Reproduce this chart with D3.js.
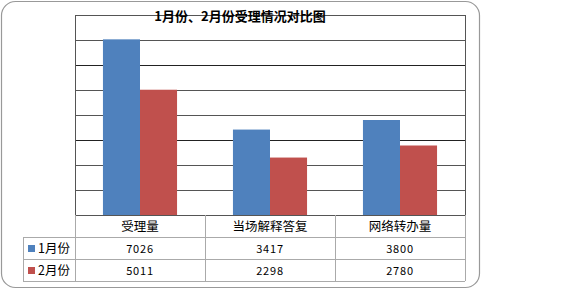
<!DOCTYPE html>
<html>
<head>
<meta charset="utf-8">
<script src="https://cdn.jsdelivr.net/npm/d3@7"></script>
<style>
  body { margin: 0; background: #fff; }
  text { font-family: "Noto Sans CJK SC", "Noto Sans", sans-serif; }
</style>
</head>
<body>
<div id="chart-root"></div>
<script>
const categories = ['受理量', '当场解释答复', '网络转办量'];
const seriesNames = ['1月份', '2月份'];
const jan = [7026, 3417, 3800];
const feb = [5011, 2298, 2780];
const colors = ['#4F81BD', '#C0504D'];

const W = 576, H = 290;
const plot = {left: 75, right: 465, top: 15, bottom: 215};
const rowH = 22;
const legendLeft = 23;

const svg = d3.select('#chart-root').append('svg')
    .attr('width', W).attr('height', H);

// outer frame
svg.append('rect')
    .attr('x', 1.5).attr('y', 1.5)
    .attr('width', 478).attr('height', 286)
    .attr('rx', 14).attr('ry', 14)
    .attr('fill', '#fff').attr('stroke', '#999').attr('stroke-width', 1.2);

const x0 = d3.scaleBand()
    .domain(categories)
    .range([plot.left, plot.right])
    .paddingInner(0.43)
    .paddingOuter(0.215);
const x1 = d3.scaleBand()
    .domain(seriesNames)
    .range([0, x0.bandwidth()]);
const y = d3.scaleLinear()
    .domain([0, 8000])
    .range([plot.bottom, plot.top]);

// gridlines
svg.append('g')
    .selectAll('line')
    .data(y.ticks(8))
    .join('line')
    .attr('x1', plot.left).attr('x2', plot.right)
    .attr('y1', d => Math.round(y(d)) + 0.5)
    .attr('y2', d => Math.round(y(d)) + 0.5)
    .attr('stroke', (d, i) => i % 3 === 0 ? '#222' : '#555');

// bars
const series = [jan, feb];
const groups = svg.append('g').selectAll('g')
    .data(categories)
    .join('g')
    .attr('transform', d => `translate(${x0(d)},0)`);
groups.selectAll('rect')
    .data((d, i) => seriesNames.map((s, j) => ({s, v: series[j][i], j})))
    .join('rect')
    .attr('x', d => x1(d.s))
    .attr('y', d => y(d.v))
    .attr('width', x1.bandwidth())
    .attr('height', d => plot.bottom - y(d.v))
    .attr('fill', d => colors[d.j]);

// plot frame
svg.append('rect')
    .attr('x', plot.left + 0.5).attr('y', plot.top + 0.5)
    .attr('width', plot.right - plot.left).attr('height', plot.bottom - plot.top)
    .attr('fill', 'none').attr('stroke', '#555');

// title
svg.append('text')
    .attr('x', 240).attr('y', 21)
    .attr('text-anchor', 'middle')
    .attr('font-size', 13).attr('font-weight', 'bold')
    .text('1月份、2月份受理情况对比图');

// data table
const table = svg.append('g').attr('stroke', '#aaa').attr('fill', 'none');
const step = x0.step();
const bounds = categories.map((c, i) => plot.left + i * step).concat([plot.right]);
bounds.forEach(bx => {
  table.append('line')
      .attr('x1', bx + 0.5).attr('x2', bx + 0.5)
      .attr('y1', plot.bottom).attr('y2', plot.bottom + rowH * 3);
});
table.append('line')
    .attr('x1', legendLeft + 0.5).attr('x2', legendLeft + 0.5)
    .attr('y1', plot.bottom + rowH).attr('y2', plot.bottom + rowH * 3);
[1, 2, 3].forEach(r => {
  table.append('line')
      .attr('x1', legendLeft).attr('x2', plot.right)
      .attr('y1', plot.bottom + rowH * r + 0.5)
      .attr('y2', plot.bottom + rowH * r + 0.5);
});

// category labels
svg.append('g').selectAll('text')
    .data(categories)
    .join('text')
    .attr('x', d => x0(d) + x0.bandwidth() / 2)
    .attr('y', plot.bottom + rowH / 2 + 4.5)
    .attr('text-anchor', 'middle')
    .attr('font-size', 12.5)
    .text(d => d);

// series rows
series.forEach((vals, j) => {
  const cy = plot.bottom + rowH * (j + 1) + rowH / 2;
  svg.append('rect')
      .attr('x', 28).attr('y', cy - 3)
      .attr('width', 7).attr('height', 7)
      .attr('fill', colors[j]);
  svg.append('text')
      .attr('x', 38).attr('y', cy + 5)
      .attr('font-size', 12.5)
      .text(seriesNames[j]);
  svg.append('g').selectAll('text')
      .data(vals)
      .join('text')
      .attr('x', (d, i) => x0(categories[i]) + x0.bandwidth() / 2)
      .attr('y', cy + 4.5)
      .attr('text-anchor', 'middle')
      .attr('font-size', 11)
      .attr('letter-spacing', 0.8)
      .text(d => d);
});
</script>
</body>
</html>
